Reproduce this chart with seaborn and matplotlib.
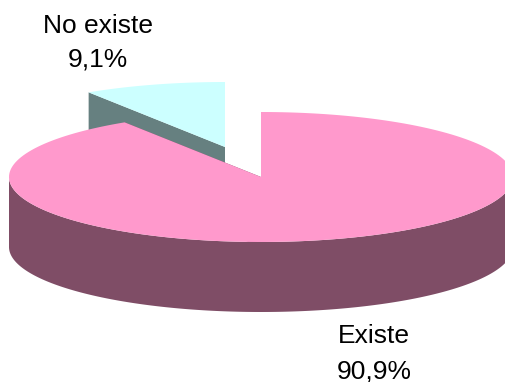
import numpy as np
import matplotlib
matplotlib.use("Agg")
import matplotlib.pyplot as plt
import seaborn as sns

categories = ["No existe", "Existe"]
value_labels = ["9,1%", "90,9%"]
values = [9.1, 90.9]

TOP = ["#CCFFFF", "#FF99CC"]
WALL = ["#668080", "#7F4D66"]
sns.set_theme(style="white")
plt.rcParams["font.family"] = ["Liberation Sans", "DejaVu Sans"]

fig = plt.figure(figsize=(5.05, 3.82), dpi=100)
ax = fig.add_axes([0, 0, 1, 1])
ax.set_xlim(0, 505)
ax.set_ylim(382, 0)
ax.axis("off")

RX, RY, DEPTH = 252, 65, 70
fracs = np.array(values) / sum(values)
sweep = fracs * 2 * np.pi


def rim(cx, cy, a0, a1, n=200):
    t = np.linspace(a0, a1, n)
    return cx + RX * np.sin(t), cy - RY * np.cos(t)


def draw_slice(cx, cy, a0, a1, top, wall, z):
    # radial side faces
    for a in (a0, a1):
        x, y = rim(cx, cy, a, a, 1)
        ax.fill([cx, x[0], x[0], cx], [cy, y[0], y[0] + DEPTH, cy + DEPTH],
                color=wall, lw=0, zorder=z)
    # outer wall, visible on the front half only
    lo, hi = max(a0, np.pi / 2), min(a1, 3 * np.pi / 2)
    if hi > lo:
        x, y = rim(cx, cy, lo, hi)
        ax.fill(np.r_[x, x[::-1]], np.r_[y, (y + DEPTH)[::-1]],
                color=wall, lw=0, zorder=z)
    # top surface
    x, y = rim(cx, cy, a0, a1)
    ax.fill(np.r_[cx, x], np.r_[cy, y], color=top, lw=0, zorder=z + 1)


# small slice sits behind, pulled out of the pie
draw_slice(225, 147, 2 * np.pi - sweep[0], 2 * np.pi, TOP[0], WALL[0], 2)
draw_slice(261, 177, 0, sweep[1], TOP[1], WALL[1], 4)

for name, lab, xc, y1, y2 in zip(categories, value_labels, (98, 374), (26, 336), (59, 371)):
    ax.text(xc, y1, name, ha="center", va="center", fontsize=19, color="black", zorder=6)
    ax.text(xc, y2, lab, ha="center", va="center", fontsize=19, color="black", zorder=6)

fig.savefig("out.png", dpi=100, facecolor="white")
